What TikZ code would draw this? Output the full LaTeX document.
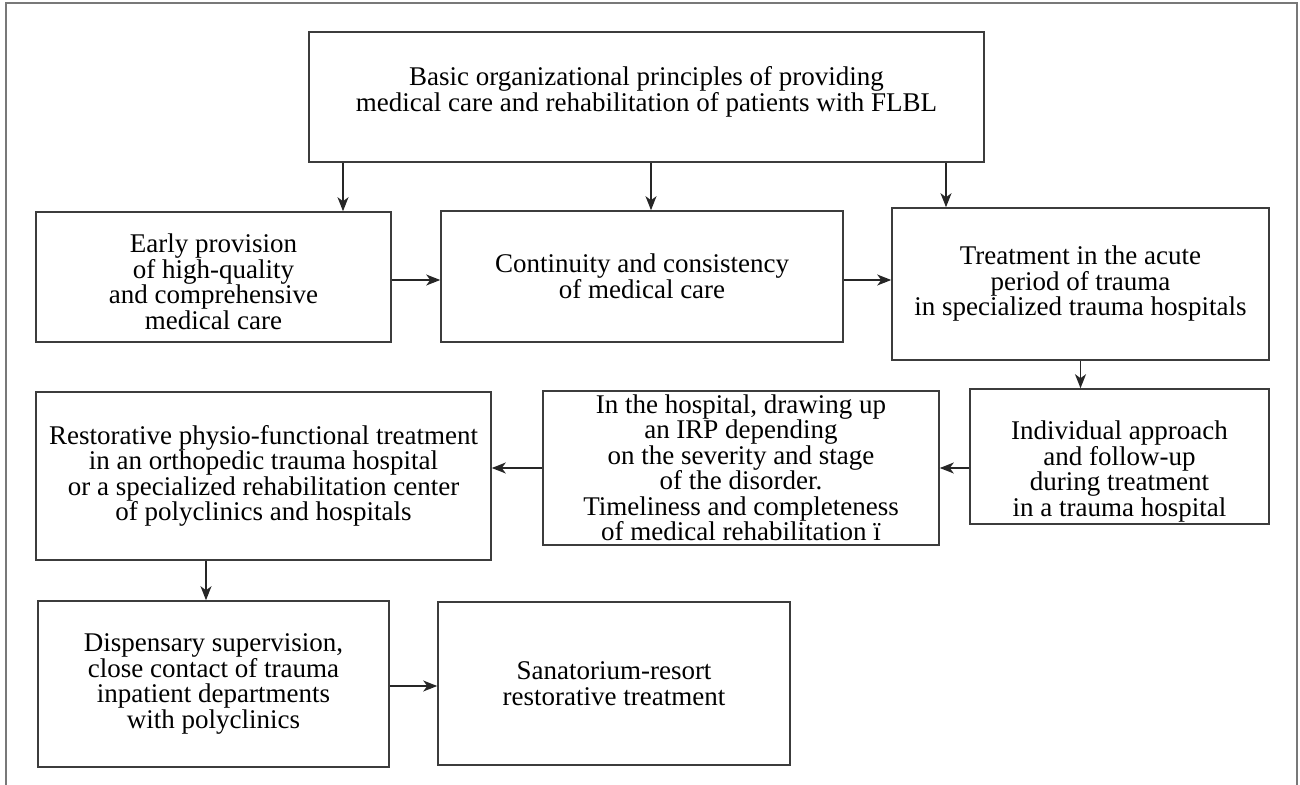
\documentclass[tikz,border=0pt]{standalone}
\usepackage{fontspec}
\setmainfont{Liberation Serif}
\usetikzlibrary{arrows.meta,positioning,calc}
\definecolor{framegray}{RGB}{120,120,120}
\definecolor{boxgray}{RGB}{60,60,60}
\tikzset{
  stagetext/.style={align=center,inner sep=0pt,
                    font=\fontsize{27}{25.5}\selectfont},
  stage/.style={rectangle,draw=boxgray,line width=1.6pt,fill=white,
                minimum width=#1,stagetext},
  stage/.default=300pt,
  arr/.style={-{Stealth[length=14pt,width=11pt,inset=4pt]},line width=1.4pt,black!85},
}

\begin{document}
\begin{tikzpicture}[x=1pt,y=-1pt]
  \useasboundingbox (0,0) rectangle (1300,784);
  % outer frame (open at the bottom)
  \draw[framegray,line width=2pt] (6,790) -- (6,3.5) -- (1296.5,3.5) -- (1296.5,790);

  % first row
  \node[stage=675pt,minimum height=130pt,
        label={[stagetext,yshift=5pt]center:{Basic organizational principles of providing\\
        medical care and rehabilitation of patients with FLBL}}] (basic) at (646.5,97) {};
  \node[stage=355pt,minimum height=130pt,
        label={[stagetext,yshift=-5pt]center:{Early provision\\ of high-quality\\
        and comprehensive\\ medical care}}] (early) at (213.5,277) {};
  \node[stage=402pt,minimum height=131pt] (contin) at (642,276.5)
    {Continuity and consistency\\ of medical care};
  \node[stage=377pt,minimum height=152pt] (acute) at (1080.5,284)
    {Treatment in the acute\\ period of trauma\\ in specialized trauma hospitals};

  % second row
  \node[stage=299pt,minimum height=135pt,
        label={[stagetext,yshift=-15pt]center:{Individual approach\\ and follow-up\\
        during treatment\\ in a trauma hospital}}] (indiv) at (1119.5,456.5) {};
  \node[stage=396pt,minimum height=154pt] (irp) at (741,468)
    {In the hospital, drawing up\\ an IRP depending\\ on the severity and stage\\
     of the disorder.\\ Timeliness and completeness\\ of medical rehabilitation ï};
  \node[stage=455pt,minimum height=168pt] (restor) at (263.5,476)
    {Restorative physio-functional treatment\\ in an orthopedic trauma hospital\\
     or a specialized rehabilitation center\\ of polyclinics and hospitals};

  % third row
  \node[stage=351pt,minimum height=166pt] (disp) at (213.5,684)
    {Dispensary supervision,\\ close contact of trauma\\ inpatient departments\\ with polyclinics};
  \node[stage=352pt,minimum height=163pt] (sana) at (614,683.5)
    {Sanatorium-resort\\ restorative treatment};

  % connectors
  \coordinate (xa) at (343,0);
  \coordinate (xb) at (651,0);
  \coordinate (xc) at (946,0);
  \coordinate (xd) at (206,0);
  \coordinate (ya) at (0,280);
  \coordinate (ye) at (0,468);
  \coordinate (yg) at (0,686);
  \draw[arr] (basic.south -| xa) -- (early.north -| xa);
  \draw[arr] (basic.south -| xb) -- (contin.north -| xb);
  \draw[arr] (basic.south -| xc) -- (acute.north -| xc);
  \draw[arr] (early.east |- ya) -- (contin.west |- ya);
  \draw[arr] (contin.east |- ya) -- (acute.west |- ya);
  \draw[arr] (acute.south) -- (acute.south |- indiv.north);
  \draw[arr] (indiv.west |- ye) -- (irp.east |- ye);
  \draw[arr] (irp.west |- ye) -- (restor.east |- ye);
  \draw[arr] (restor.south -| xd) -- (disp.north -| xd);
  \draw[arr] (disp.east |- yg) -- (sana.west |- yg);
\end{tikzpicture}
\end{document}
